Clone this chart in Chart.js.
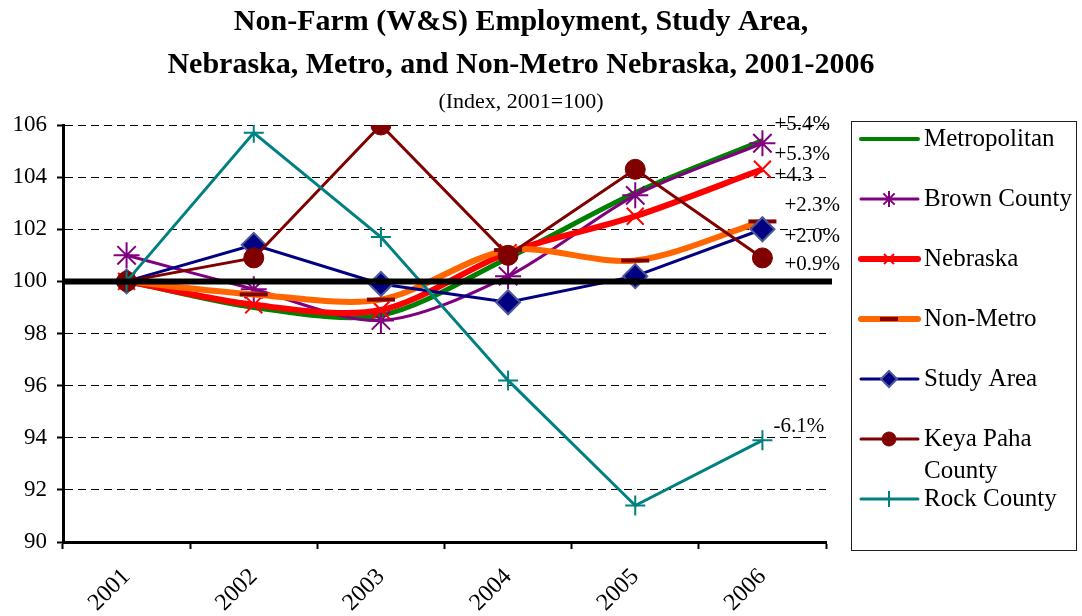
<!DOCTYPE html>
<html>
<head>
<meta charset="utf-8">
<script src="https://cdn.jsdelivr.net/npm/chart.js@4.4.0/dist/chart.umd.min.js"></script>
<style>
  html, body { margin: 0; padding: 0; background: #fff; }
  #wrap { width: 1082px; height: 616px; }
</style>
</head>
<body>
<div id="wrap"><canvas id="empChart" width="1082" height="616"></canvas></div>
<script>
// data (index, 2001 = 100)
const years = ["2001", "2002", "2003", "2004", "2005", "2006"];
const metropolitan = [100, 99.0, 98.7, 100.9, 103.4, 105.4];
const brownCounty = [101.0, 99.7, 98.5, 100.2, 103.3, 105.3];
const nebraska = [100, 99.1, 98.9, 101.1, 102.5, 104.3];
const nonMetro = [100, 99.5, 99.3, 101.2, 100.8, 102.3];
const studyArea = [100, 101.4, 99.9, 99.2, 100.2, 102.0];
const keyaPaha = [100, 100.9, 106.0, 101.0, 104.3, 100.9];
const rockCounty = [100, 105.7, 101.7, 96.2, 91.4, 93.9];

const seriesNames = ["Metropolitan", "Brown County", "Nebraska", "Non-Metro", "Study Area", ["Keya Paha", "County"], "Rock County"];
const endLabels = ["+5.4%", "+5.3%", "+4.3", "+2.3%", "+2.0%", "+0.9%", "-6.1%"];
const yMin = 90, yMax = 106, yStep = 2;
const baseValue = 100;

const FONT = "'Liberation Serif', 'Times New Roman', serif";

// where each end label sits relative to the 2006 point
const labelOffsets = [[12, -16], [12, 11], [12, 6], [22, -16], [22, 7], [22, 7], [11, -14]];

// legend sample look (line width, marker radius)
const legendLook = [
  { lw: 4, r: 0 }, { lw: 3, r: 8 }, { lw: 6, r: 7 }, { lw: 6, r: 9 },
  { lw: 3, r: 8 }, { lw: 3, r: 7 }, { lw: 3, r: 8 }
];

function makeSet(i, data, color, width, extra) {
  return Object.assign({
    label: Array.isArray(seriesNames[i]) ? seriesNames[i].join(" ") : seriesNames[i],
    data: data,
    borderColor: color,
    backgroundColor: color,
    borderWidth: width,
    pointRadius: 0,
    pointHoverRadius: 0,
    tension: 0,
    order: 7 - i
  }, extra);
}

const datasets = [
  makeSet(0, metropolitan, "#008000", 5, { tension: 0.3 }),
  makeSet(1, brownCounty, "#800080", 3, { tension: 0.3, pointStyle: "star", pointRadius: 13, pointBorderWidth: 2, pointBorderColor: "#800080" }),
  makeSet(2, nebraska, "#ff0000", 6, { tension: 0.3, pointStyle: "crossRot", pointRadius: 12, pointBorderWidth: 2, pointBorderColor: "#ff0000" }),
  makeSet(3, nonMetro, "#ff6600", 6, { tension: 0.3, pointStyle: "line", pointRadius: 14, pointBorderWidth: 4, pointBorderColor: "#800000" }),
  makeSet(4, studyArea, "#000080", 3, { pointStyle: "rectRot", pointRadius: 12, pointBorderWidth: 2, pointBorderColor: "#4d5a99", pointBackgroundColor: "#000080" }),
  makeSet(5, keyaPaha, "#800000", 3, { pointStyle: "circle", pointRadius: 10, pointBorderWidth: 1, pointBorderColor: "#800000", pointBackgroundColor: "#800000" }),
  makeSet(6, rockCounty, "#008080", 3, { pointStyle: "cross", pointRadius: 10, pointBorderWidth: 2, pointBorderColor: "#008080" })
];

function markerOpts(ds, r) {
  return { pointStyle: ds.pointStyle, radius: r, rotation: 0, borderWidth: ds.pointBorderWidth || 0 };
}

const extras = {
  id: "extras",
  afterDatasetsDraw(chart) {
    const { ctx, chartArea, scales } = chart;
    const x = scales.x, y = scales.y;
    ctx.save();
    // heavy line at 100
    const y100 = y.getPixelForValue(baseValue);
    ctx.strokeStyle = "#000";
    ctx.lineWidth = 6;
    ctx.beginPath();
    ctx.moveTo(chartArea.left, y100);
    ctx.lineTo(chartArea.right + 6, y100);
    ctx.stroke();

    // percent change labels next to 2006
    ctx.fillStyle = "#000";
    ctx.font = "21px " + FONT;
    ctx.textAlign = "left";
    ctx.textBaseline = "middle";
    const last = years.length - 1;
    chart.data.datasets.forEach((ds, i) => {
      const px = x.getPixelForValue(last) + labelOffsets[i][0];
      const py = y.getPixelForValue(ds.data[last]) + labelOffsets[i][1];
      ctx.fillText(endLabels[i], px, py);
    });
    ctx.restore();
  },
  afterDraw(chart) {
    const ctx = chart.ctx;
    ctx.save();
    // titles
    ctx.fillStyle = "#000";
    ctx.textAlign = "center";
    ctx.textBaseline = "middle";
    ctx.font = "bold 30px " + FONT;
    ctx.fillText("Non-Farm (W&S) Employment, Study Area,", 521, 22);
    ctx.fillText("Nebraska, Metro, and Non-Metro Nebraska, 2001-2006", 521, 65);
    ctx.font = "22px " + FONT;
    ctx.fillText("(Index, 2001=100)", 521, 102);

    // legend box
    const bx = 851.5, by = 121.5, bw = 225, bh = 429;
    ctx.strokeStyle = "#222";
    ctx.lineWidth = 1;
    ctx.strokeRect(bx, by, bw, bh);

    ctx.font = "25px " + FONT;
    ctx.textAlign = "left";
    let ey = 139;
    chart.data.datasets.forEach((ds, i) => {
      const look = legendLook[i];
      ctx.strokeStyle = ds.borderColor;
      ctx.lineWidth = look.lw;
      ctx.lineCap = "round";
      ctx.beginPath();
      ctx.moveTo(861, ey);
      ctx.lineTo(918, ey);
      ctx.stroke();
      ctx.lineCap = "butt";
      if (look.r && Chart.helpers && Chart.helpers.drawPoint) {
        ctx.strokeStyle = ds.pointBorderColor;
        ctx.fillStyle = ds.pointBackgroundColor || ds.pointBorderColor;
        ctx.lineWidth = ds.pointBorderWidth;
        Chart.helpers.drawPoint(ctx, markerOpts(ds, look.r), 889, ey);
      }
      ctx.fillStyle = "#000";
      const name = seriesNames[i];
      if (Array.isArray(name)) {
        ctx.fillText(name[0], 924, ey);
        ctx.fillText(name[1], 924, ey + 32);
      } else {
        ctx.fillText(name, 924, ey);
      }
      ey += 60;
    });
    ctx.restore();
  }
};

new Chart(document.getElementById("empChart"), {
  type: "line",
  data: { labels: years, datasets: datasets },
  options: {
    responsive: false,
    animation: false,
    devicePixelRatio: 1,
    layout: { padding: { left: 12, right: 256, top: 125, bottom: 0 } },
    plugins: {
      legend: { display: false },
      title: { display: false },
      tooltip: { enabled: false }
    },
    scales: {
      x: {
        offset: true,
        grid: { display: true, drawOnChartArea: false, offset: true, tickLength: 7, tickWidth: 2, color: "#000" },
        border: { color: "#000", width: 3 },
        ticks: { minRotation: 45, maxRotation: 45, color: "#000", padding: 14, font: { family: FONT, size: 24 } },
        afterFit: s => { s.height = 74; }
      },
      y: {
        min: yMin,
        max: yMax,
        ticks: { stepSize: yStep, color: "#000", padding: 10, font: { family: FONT, size: 23 } },
        grid: { color: "#000", lineWidth: 1, tickLength: 6, tickWidth: 2, tickColor: "#000", tickBorderDash: [] },
        border: { color: "#000", width: 3, dash: [8, 5] },
        afterFit: s => { s.width = 51; }
      }
    }
  },
  plugins: [extras]
});
</script>
</body>
</html>
